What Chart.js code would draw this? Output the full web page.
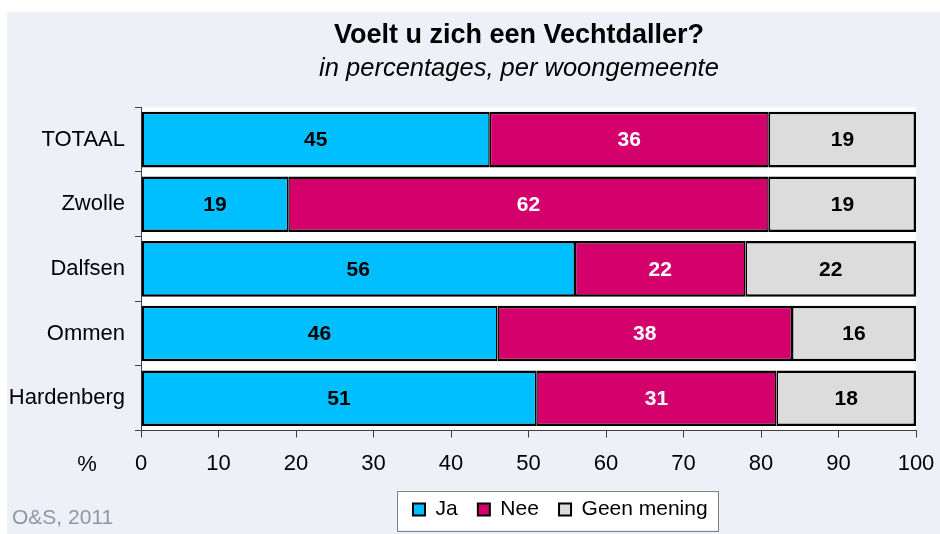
<!DOCTYPE html>
<html><head><meta charset="utf-8">
<script src="https://cdn.jsdelivr.net/npm/chart.js@4/dist/chart.umd.min.js"></script>
<style>html,body{margin:0;padding:0;background:#fff}canvas{display:block}</style>
</head><body>
<canvas id="c" width="940" height="534"></canvas>
<script>
const categories = ["TOTAAL", "Zwolle", "Dalfsen", "Ommen", "Hardenberg"];
const ja = [45, 19, 56, 46, 51];
const nee = [36, 62, 22, 38, 31];
const geenMening = [19, 19, 22, 16, 18];
const xTicks = [0, 10, 20, 30, 40, 50, 60, 70, 80, 90, 100];
const seriesNames = ["Ja", "Nee", "Geen mening"];
const titleText = "Voelt u zich een Vechtdaller?";
const subtitleText = "in percentages, per woongemeente";

const FONT = "'Liberation Sans', Arial, sans-serif";
const LAV = "#EEF0F8";

const bgPlugin = {
  id: 'bg',
  beforeDraw(chart) {
    const ctx = chart.ctx, a = chart.chartArea;
    ctx.save();
    ctx.fillStyle = '#fff';
    ctx.fillRect(0, 0, chart.width, chart.height);
    ctx.fillStyle = LAV;
    ctx.fillRect(7, 12, chart.width - 7, chart.height - 12);
    ctx.fillStyle = '#fff';
    ctx.fillRect(a.left, a.top, a.right - a.left, a.bottom - a.top);
    const lg = chart.legend;
    if (lg && lg.legendHitBoxes && lg.legendHitBoxes.length) {
      const hb = lg.legendHitBoxes;
      const l = hb[0].left - 16, r = hb[hb.length - 1].left + hb[hb.length - 1].width + 10;
      ctx.fillStyle = '#fff';
      ctx.fillRect(l, lg.top, r - l, lg.bottom - lg.top);
      ctx.strokeStyle = '#808080';
      ctx.lineWidth = 1;
      ctx.strokeRect(Math.round(l) + 0.5, Math.round(lg.top) + 0.5, Math.round(r - l), Math.round(lg.bottom - lg.top));
    }
    ctx.restore();
  },
  afterLayout(chart) {
    const lg = chart.legend;
    if (lg && lg.lineWidths) {
      const pad = lg.options.labels.padding;
      const startX = (lg.left + pad + lg.right - lg.lineWidths[0]) / 2;
      const shift = 413 - startX;
      lg.left += shift; lg.right += shift;
    }
    // shift title and subtitle blocks so they are centred at x≈519
    chart.boxes.forEach(b => {
      if (b.constructor && b.constructor.name === 'Title' || (b.options && typeof b.options.text === 'string' && b !== lg && b.options.text.length && (b.options.text === titleText || b.options.text === subtitleText))) {
        const c = (b.left + b.right) / 2;
        const s = 519 - c;
        b.left += s; b.right += s;
      }
    });
  },
  afterDraw(chart) {
    const ctx = chart.ctx;
    ctx.save();
    ctx.font = "22px " + FONT;
    ctx.fillStyle = '#000';
    ctx.textAlign = 'center';
    ctx.textBaseline = 'middle';
    ctx.fillText('%', 87, 465);
    ctx.textAlign = 'left';
    ctx.fillStyle = '#8C98A8';
    ctx.font = "21px " + FONT;
    ctx.fillText('O&S, 2011', 12, 518);
    ctx.font = "bold 21px " + FONT;
    ctx.textAlign = 'center';
    chart.data.datasets.forEach((ds, di) => {
      const meta = chart.getDatasetMeta(di);
      meta.data.forEach((el, i) => {
        const p = el.getProps(['x', 'y', 'base'], true);
        ctx.fillStyle = ds.labelColor;
        ctx.fillText(String(ds.data[i]), (p.x + p.base) / 2, p.y + 1);
      });
    });
    ctx.restore();
  }
};

const bw = (l, r) => ({ left: l, right: r, top: 2.5, bottom: 2.5 });

new Chart(document.getElementById('c'), {
  type: 'bar',
  data: {
    labels: categories,
    datasets: [
      { label: seriesNames[0], data: ja, backgroundColor: '#00BFFF', borderColor: '#000', borderWidth: bw(2.5, 1.5), borderSkipped: false, labelColor: '#000' },
      { label: seriesNames[1], data: nee, backgroundColor: '#D4006C', borderColor: '#000', borderWidth: bw(1.5, 1.5), borderSkipped: false, labelColor: '#fff' },
      { label: seriesNames[2], data: geenMening, backgroundColor: '#DCDCDC', borderColor: '#000', borderWidth: bw(1.5, 2.5), borderSkipped: false, labelColor: '#000' }
    ]
  },
  options: {
    indexAxis: 'y',
    responsive: false,
    animation: false,
    devicePixelRatio: 1,
    layout: { padding: { left: 0, right: 24, top: 0, bottom: 4 } },
    datasets: { bar: { categoryPercentage: 1, barPercentage: 0.86 } },
    scales: {
      x: {
        stacked: true, min: 0, max: 100,
        afterBuildTicks(s) { s.ticks = xTicks.map(v => ({ value: v })); },
        afterFit(s) { s.height = 60; s.paddingRight = 0; s.paddingLeft = 0; },
        grid: { drawOnChartArea: false, drawTicks: true, tickLength: 7, color: '#404040', lineWidth: 1 },
        border: { display: true, color: '#404040', width: 1 },
        ticks: { color: '#000', font: { family: FONT, size: 22 }, padding: 13, maxRotation: 0, autoSkip: false }
      },
      y: {
        stacked: true,
        afterFit(s) { s.width = 141; },
        grid: { drawOnChartArea: false, drawTicks: true, tickLength: 6, color: '#404040', offset: true },
        border: { display: true, color: '#404040', width: 1 },
        ticks: { color: '#000', font: { family: FONT, size: 22 }, padding: 10 }
      }
    },
    plugins: {
      title: { display: true, text: titleText, color: '#000', font: { family: FONT, size: 27, weight: 'bold', lineHeight: 1.2 }, padding: { top: 19, bottom: 0 } },
      subtitle: { display: true, text: subtitleText, color: '#000', font: { family: FONT, size: 25.5, style: 'italic', lineHeight: 1.2 }, padding: { top: 2, bottom: 23.3 } },
      legend: {
        position: 'bottom',
        labels: {
          color: '#000', font: { family: FONT, size: 21 }, boxWidth: 12, boxHeight: 12, padding: 8.5,
          generateLabels(chart) {
            const items = Chart.defaults.plugins.legend.labels.generateLabels(chart);
            items.forEach((it, i) => { it.lineWidth = 2; if (i < items.length - 1) it.text = it.text + '  '; });
            return items;
          }
        }
      },
      tooltip: { enabled: false }
    }
  },
  plugins: [bgPlugin]
});
</script>
</body></html>
